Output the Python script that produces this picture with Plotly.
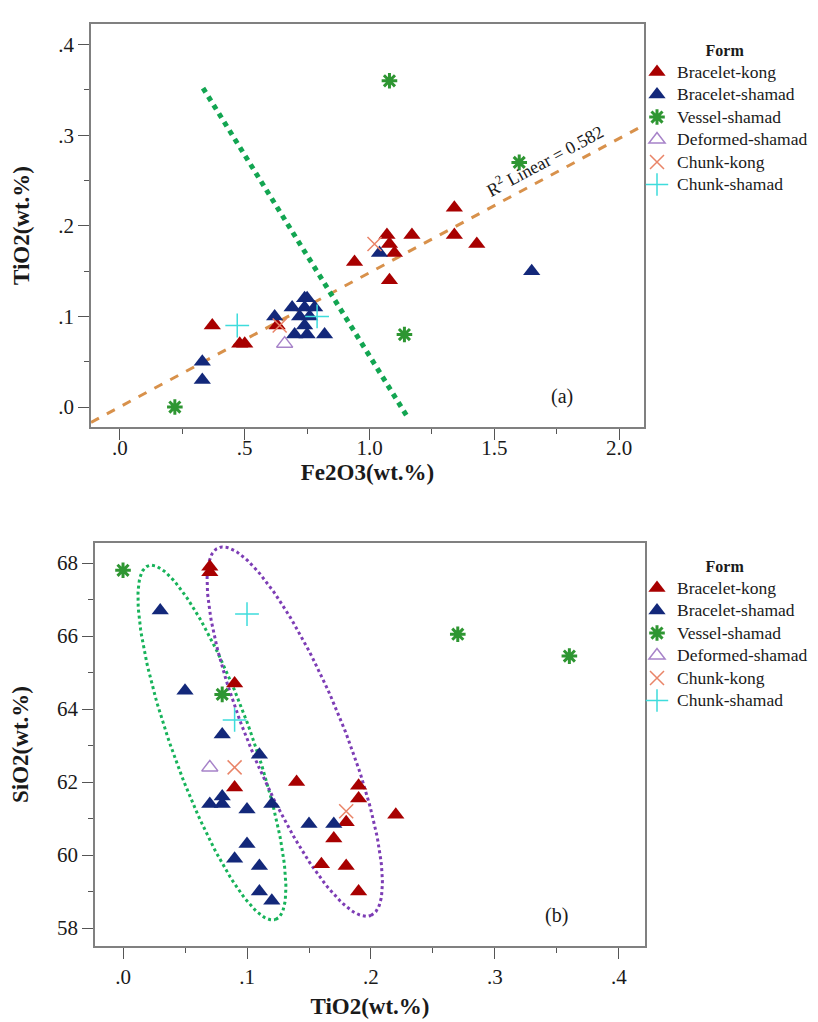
import numpy as np
import plotly.graph_objects as go

# ---------------- Data: panel (a) Fe2O3 vs TiO2 ----------------
bk_fe = [0.37, 0.48, 0.50, 0.63, 0.94, 1.07, 1.08, 1.10, 1.08, 1.17, 1.34, 1.34, 1.43]
bk_ti = [0.09, 0.07, 0.07, 0.09, 0.16, 0.19, 0.18, 0.17, 0.14, 0.19, 0.22, 0.19, 0.18]
bs_fe = [0.33, 0.33, 0.62, 0.69, 0.74, 0.75, 0.78, 0.72, 0.74, 0.70, 0.75, 0.82, 1.04, 1.65, 0.74, 0.76]
bs_ti = [0.05, 0.03, 0.10, 0.11, 0.12, 0.12, 0.11, 0.10, 0.09, 0.08, 0.08, 0.08, 0.17, 0.15, 0.11, 0.10]
vs_fe = [0.22, 1.08, 1.14, 1.60]
vs_ti = [0.00, 0.36, 0.08, 0.27]
ds_fe = [0.66]
ds_ti = [0.07]
ck_fe = [0.64, 1.02]
ck_ti = [0.09, 0.18]
cs_fe = [0.47, 0.79]
cs_ti = [0.09, 0.10]

# ---------------- Data: panel (b) TiO2 vs SiO2 ----------------
bk_ti_b = [0.07, 0.07, 0.09, 0.09, 0.14, 0.19, 0.19, 0.22, 0.18, 0.17, 0.16, 0.18, 0.19]
bk_si_b = [67.9, 67.75, 64.7, 61.85, 62.0, 61.9, 61.55, 61.1, 60.9, 60.45, 59.75, 59.7, 59.0]
bs_ti_b = [0.03, 0.05, 0.08, 0.11, 0.07, 0.08, 0.08, 0.10, 0.12, 0.10, 0.09, 0.11, 0.11, 0.12, 0.15, 0.17]
bs_si_b = [66.7, 64.5, 63.3, 62.75, 61.4, 61.6, 61.4, 61.25, 61.4, 60.3, 59.9, 59.7, 59.0, 58.75, 60.85, 60.85]
vs_ti_b = [0.00, 0.08, 0.27, 0.36]
vs_si_b = [67.8, 64.4, 66.05, 65.45]
ds_ti_b = [0.07]
ds_si_b = [62.4]
ck_ti_b = [0.09, 0.18]
ck_si_b = [62.4, 61.2]
cs_ti_b = [0.10, 0.09]
cs_si_b = [66.6, 63.7]

groups = ["Bracelet-kong", "Bracelet-shamad", "Vessel-shamad",
          "Deformed-shamad", "Chunk-kong", "Chunk-shamad"]

# regression line
fit_slope = 0.148
fit_intercept = 0.0003
r2_text = "R<sup>2</sup> Linear = 0.582"

# discriminating line in (a) (end points)
sep_fe = [0.333, 1.15]
sep_ti = [0.352, -0.010]

# ---------------- styling ----------------
W, H = 818, 1022
SERIF = "Liberation Serif"
RED = "#A80000"
NAVY = "#13287A"
GREEN = "#2E9632"
PURPLE = "#A783C9"
SALMON = "#E98468"
CYAN = "#3EDCDC"
TXT = "#1a1a1a"

styles = {
    "Bracelet-kong": dict(symbol="triangle-up", size=15, color=RED, line=dict(width=0)),
    "Bracelet-shamad": dict(symbol="triangle-up", size=15, color=NAVY, line=dict(width=0)),
    "Vessel-shamad": dict(symbol="asterisk-open", size=13, color=GREEN, line=dict(width=3, color=GREEN)),
    "Deformed-shamad": dict(symbol="triangle-up-open", size=14, color=PURPLE, line=dict(width=1.5, color=PURPLE)),
    "Chunk-kong": dict(symbol="x-thin-open", size=14, color=SALMON, line=dict(width=1.5, color=SALMON)),
    "Chunk-shamad": dict(symbol="cross-thin-open", size=17, color=CYAN, line=dict(width=1.5, color=CYAN)),
}

data_a = {
    "Bracelet-kong": (bk_fe, bk_ti), "Bracelet-shamad": (bs_fe, bs_ti),
    "Vessel-shamad": (vs_fe, vs_ti), "Deformed-shamad": (ds_fe, ds_ti),
    "Chunk-kong": (ck_fe, ck_ti), "Chunk-shamad": (cs_fe, cs_ti),
}
data_b = {
    "Bracelet-kong": (bk_ti_b, bk_si_b), "Bracelet-shamad": (bs_ti_b, bs_si_b),
    "Vessel-shamad": (vs_ti_b, vs_si_b), "Deformed-shamad": (ds_ti_b, ds_si_b),
    "Chunk-kong": (ck_ti_b, ck_si_b), "Chunk-shamad": (cs_ti_b, cs_si_b),
}

# axis ranges / domains (pixels)
xa_rng = [-0.116, 2.1]
ya_rng = [-0.022, 0.4227]
xb_rng = [-0.0226, 0.421]
yb_rng = [57.507, 68.548]
xa_dom_px = (83, 636)
ya_dom_px = (16, 419)
xb_dom_px = (87, 637)
yb_dom_px = (535, 938)

fig = go.Figure()

# guide lines panel (a)
fit_x = np.array(xa_rng)
fig.add_trace(go.Scatter(x=fit_x, y=fit_intercept + fit_slope * fit_x, mode="lines",
                         line=dict(color="#D8914B", width=3, dash="dash"),
                         showlegend=False, hoverinfo="skip", xaxis="x", yaxis="y"))
fig.add_trace(go.Scatter(x=sep_fe, y=sep_ti, mode="lines",
                         line=dict(color="#12A551", width=5, dash="dot"),
                         showlegend=False, hoverinfo="skip", xaxis="x", yaxis="y"))

# ellipses panel (b): centre (data), semi-axes (px) and tilt
kx = (xb_dom_px[1] - xb_dom_px[0]) / (xb_rng[1] - xb_rng[0])
ky = (yb_dom_px[1] - yb_dom_px[0]) / (yb_rng[1] - yb_rng[0])


def ellipse(cx, cy, a_px, b_px, tilt_deg):
    t = np.linspace(0, 2 * np.pi, 200)
    th = np.radians(tilt_deg)
    ux, uy = np.sin(th), np.cos(th)
    vx, vy = np.cos(th), -np.sin(th)
    px = a_px * np.cos(t) * ux + b_px * np.sin(t) * vx
    py = a_px * np.cos(t) * uy + b_px * np.sin(t) * vy
    return cx + px / kx, cy - py / ky


ex, ey = ellipse(0.0717, 63.08, 188, 40, 19.8)
fig.add_trace(go.Scatter(x=ex, y=ey, mode="lines", line=dict(color="#17B35A", width=3, dash="dot"),
                         showlegend=False, hoverinfo="skip", xaxis="x2", yaxis="y2"))
ex, ey = ellipse(0.1385, 63.38, 199, 47, 22.5)
fig.add_trace(go.Scatter(x=ex, y=ey, mode="lines", line=dict(color="#7D3DB5", width=3, dash="dot"),
                         showlegend=False, hoverinfo="skip", xaxis="x2", yaxis="y2"))


def legname(g):
    return '<span style="font-size:17.5px">' + g + '</span>'


for g in groups:
    x, y = data_a[g]
    fig.add_trace(go.Scatter(x=x, y=y, mode="markers", name=legname(g), marker=styles[g],
                             xaxis="x", yaxis="y", legend="legend"))
for g in groups:
    x, y = data_b[g]
    fig.add_trace(go.Scatter(x=x, y=y, mode="markers", name=legname(g), marker=styles[g],
                             xaxis="x2", yaxis="y2", legend="legend2"))


def dom_x(p):
    return [p[0] / W, p[1] / W]


def dom_y(p):
    return [1 - p[1] / H, 1 - p[0] / H]


tickfont = dict(family=SERIF, size=21, color=TXT)
titlefont = dict(family=SERIF, size=23, color=TXT)
common = dict(showline=True, linecolor="#808080", linewidth=1.5, mirror=True,
              ticks="outside", ticklen=11, tickwidth=1.3, tickcolor="#555555",
              showgrid=False, zeroline=False, tickfont=tickfont, automargin=False)


def minor(vals):
    return dict(tickmode="array", tickvals=vals, ticks="outside", ticklen=5,
                tickwidth=1.3, tickcolor="#555555", showgrid=False)


def legend_cfg(top_px):
    return dict(x=629 / W, y=1 - top_px / H, xanchor="left", yanchor="top",
                title=dict(text="<b>Form</b>", side="top center", font=dict(family=SERIF, size=16, color=TXT)),
                font=dict(family=SERIF, size=15, color=TXT), bgcolor="rgba(0,0,0,0)",
                tracegroupgap=0, itemwidth=30)


fig.update_layout(
    width=W, height=H, margin=dict(l=0, r=0, t=0, b=0),
    paper_bgcolor="white", plot_bgcolor="white",
    font=dict(family=SERIF, color=TXT),
    xaxis=dict(domain=dom_x(xa_dom_px), range=xa_rng, anchor="y",
               tickmode="array", tickvals=[0, 0.5, 1.0, 1.5, 2.0],
               ticktext=[".0", ".5", "1.0", "1.5", "2.0"],
               minor=minor([0.25, 0.75, 1.25, 1.75]), ticklabelstandoff=-10,
               title=dict(text="<b>Fe2O3(wt.%)</b>", font=titlefont, standoff=3), **common),
    yaxis=dict(domain=dom_y(ya_dom_px), range=ya_rng, anchor="x",
               tickmode="array", tickvals=[0, 0.1, 0.2, 0.3, 0.4],
               ticktext=[".0", ".1", ".2", ".3", ".4"],
               minor=minor([0.05, 0.15, 0.25, 0.35]),
               title=dict(text="<b>TiO2(wt.%)</b>", font=titlefont, standoff=22), **common),
    xaxis2=dict(domain=dom_x(xb_dom_px), range=xb_rng, anchor="y2",
                tickmode="array", tickvals=[0, 0.1, 0.2, 0.3, 0.4],
                ticktext=[".0", ".1", ".2", ".3", ".4"],
                minor=minor([0.05, 0.15, 0.25, 0.35]),
                title=dict(text="<b>TiO2(wt.%)</b>", font=titlefont, standoff=10), **common),
    yaxis2=dict(domain=dom_y(yb_dom_px), range=yb_rng, anchor="x2",
                tickmode="array", tickvals=[58, 60, 62, 64, 66, 68],
                ticktext=["58", "60", "62", "64", "66", "68"],
                minor=minor([59, 61, 63, 65, 67]),
                title=dict(text="<b>SiO2(wt.%)</b>", font=titlefont, standoff=22), **common),
    legend=legend_cfg(27),
    legend2=legend_cfg(543),
    annotations=[
        dict(x=1.70, y=0.272, xref="x", yref="y", text=r2_text, showarrow=False,
             textangle=-28.3, font=dict(family=SERIF, size=18, color=TXT)),
        dict(x=1.77, y=0.012, xref="x", yref="y", text="(a)", showarrow=False,
             font=dict(family=SERIF, size=20, color=TXT)),
        dict(x=0.35, y=58.35, xref="x2", yref="y2", text="(b)", showarrow=False,
             font=dict(family=SERIF, size=20, color=TXT)),
    ],
)

fig.write_html("out.html")
